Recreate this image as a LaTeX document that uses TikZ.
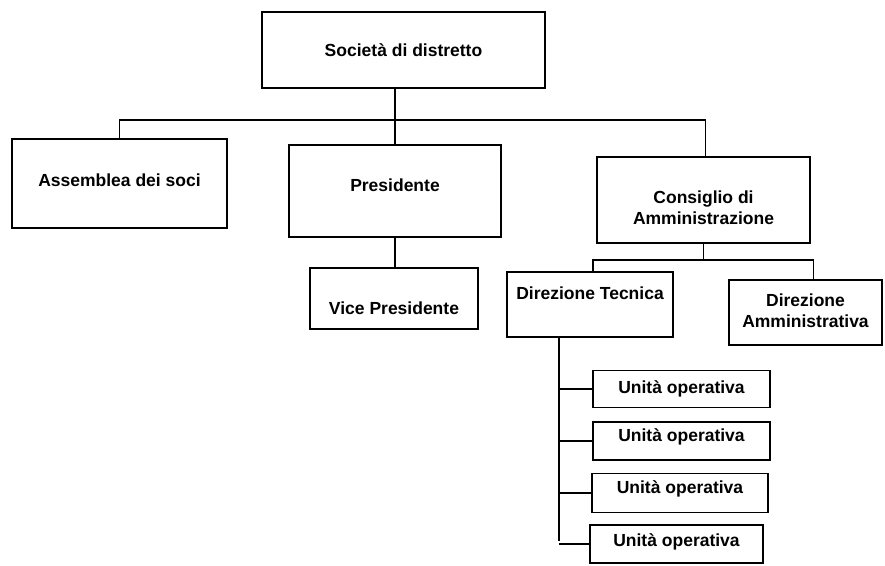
\documentclass[tikz,border=0pt]{standalone}
\usepackage{fontspec}
\setmainfont{Liberation Sans}
\usetikzlibrary{calc}
\tikzset{
  box/.style={draw=black, line width=1.3pt, rectangle, inner sep=0pt, fill=white},
  lbl/.style={font=\bfseries\fontsize{17.5}{21}\selectfont, align=center, text=black, inner sep=0pt},
  link/.style={draw=black, line width=1.3pt},
}
\begin{document}
\begin{tikzpicture}[x=1pt, y=-1pt]
  \useasboundingbox[fill=white] (0,0) rectangle (885,565);

  % boxes of the organisation chart
  \node[box, minimum width=283pt, minimum height=76pt,
        label={[lbl]center:Società di distretto}] (soc) at (403.5,50) {};
  \node[box, minimum width=215pt, minimum height=89pt,
        label={[lbl, yshift=3.5pt]center:Assemblea dei soci}] (ass) at (119.5,183.5) {};
  \node[box, minimum width=212pt, minimum height=92pt,
        label={[lbl, yshift=6pt]center:Presidente}] (pres) at (395,191) {};
  \node[box, minimum width=168pt, minimum height=61pt,
        label={[lbl, yshift=-10pt]center:Vice Presidente}] (vice) at (394,298.5) {};
  \node[box, minimum width=213pt, minimum height=86pt,
        label={[lbl, yshift=-7.5pt]center:Consiglio di\\Amministrazione}] (cda) at (703.5,200) {};
  \node[box, minimum width=166pt, minimum height=65pt,
        label={[lbl, yshift=11.5pt]center:Direzione Tecnica}] (dt) at (590,304.5) {};
  \node[box, minimum width=153pt, minimum height=65pt,
        label={[lbl, yshift=1.5pt]center:Direzione\\Amministrativa}] (da) at (805.5,312.5) {};
  \node[box, minimum width=177pt, minimum height=37pt,
        label={[lbl]center:Unità operativa}] (u1) at (681.5,389) {};
  \node[box, minimum width=177pt, minimum height=38pt,
        label={[lbl, yshift=4pt]center:Unità operativa}] (u2) at (681.5,441) {};
  \node[box, minimum width=176pt, minimum height=39pt,
        label={[lbl, yshift=4.5pt]center:Unità operativa}] (u3) at (680,493) {};
  \node[box, minimum width=173pt, minimum height=38pt,
        label={[lbl, yshift=2pt]center:Unità operativa}] (u4) at (676.5,544) {};

  % first level bus
  \coordinate (bus) at (0,120);
  \draw[link] (soc.south -| pres.north) -- (pres.north);
  \draw[link] (ass.north) -- (ass.north |- bus) -- ($(cda.north |- bus)+(2,0)$) -- ($(cda.north)+(2,0)$);

  % president to vice president
  \draw[link] (pres.south) -- (pres.south |- vice.north);

  % board to the two directorates
  \coordinate (bus2) at (0,260);
  \draw[link] (cda.south) -- (cda.south |- bus2);
  \draw[link] ($(dt.north)+(3,0)$) -- ($(dt.north |- bus2)+(3,0)$)
              -- ($(da.north |- bus2)+(8,0)$) -- ($(da.north)+(8,0)$);

  % technical directorate to the operating units
  \coordinate (trunk) at (559,541);
  \draw[link] (dt.south -| trunk) -- (trunk);
  \foreach \u in {u1,u2,u3,u4}
    \draw[link] (\u.west -| trunk) -- (\u.west);
\end{tikzpicture}
\end{document}
